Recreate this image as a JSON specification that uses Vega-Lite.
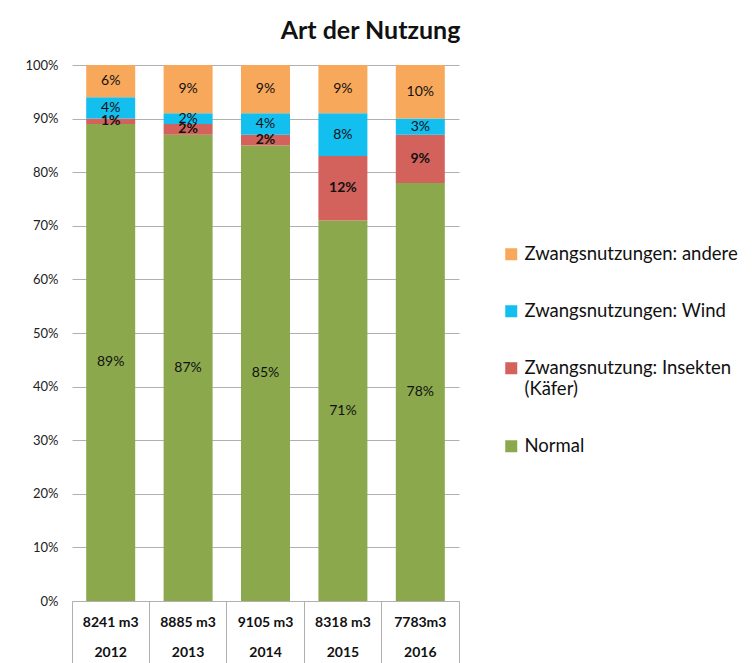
{
  "$schema": "https://vega.github.io/schema/vega-lite/v6.json",
  "autosize": "none",
  "width": 387,
  "height": 536,
  "padding": {"left": 72, "top": 65, "right": 296, "bottom": 62},
  "background": "white",
  "config": {"font": "Lato", "view": {"stroke": null}},
  "title": {"text": "Art der Nutzung", "fontSize": 25, "fontWeight": "bold", "color": "#111111", "anchor": "middle", "dx": 105, "offset": 15, "font": "Lato"},
  "datasets": {
    "d": [
      {"xlab": "8241 m3|2012", "cat": "Normal", "ord": 1, "value": 89},
      {"xlab": "8241 m3|2012", "cat": "Zwangsnutzung: Insekten (Käfer)", "ord": 2, "value": 1},
      {"xlab": "8241 m3|2012", "cat": "Zwangsnutzungen: Wind", "ord": 3, "value": 4},
      {"xlab": "8241 m3|2012", "cat": "Zwangsnutzungen: andere", "ord": 4, "value": 6},
      {"xlab": "8885 m3|2013", "cat": "Normal", "ord": 1, "value": 87},
      {"xlab": "8885 m3|2013", "cat": "Zwangsnutzung: Insekten (Käfer)", "ord": 2, "value": 2},
      {"xlab": "8885 m3|2013", "cat": "Zwangsnutzungen: Wind", "ord": 3, "value": 2},
      {"xlab": "8885 m3|2013", "cat": "Zwangsnutzungen: andere", "ord": 4, "value": 9},
      {"xlab": "9105 m3|2014", "cat": "Normal", "ord": 1, "value": 85},
      {"xlab": "9105 m3|2014", "cat": "Zwangsnutzung: Insekten (Käfer)", "ord": 2, "value": 2},
      {"xlab": "9105 m3|2014", "cat": "Zwangsnutzungen: Wind", "ord": 3, "value": 4},
      {"xlab": "9105 m3|2014", "cat": "Zwangsnutzungen: andere", "ord": 4, "value": 9},
      {"xlab": "8318 m3|2015", "cat": "Normal", "ord": 1, "value": 71},
      {"xlab": "8318 m3|2015", "cat": "Zwangsnutzung: Insekten (Käfer)", "ord": 2, "value": 12},
      {"xlab": "8318 m3|2015", "cat": "Zwangsnutzungen: Wind", "ord": 3, "value": 8},
      {"xlab": "8318 m3|2015", "cat": "Zwangsnutzungen: andere", "ord": 4, "value": 9},
      {"xlab": "7783m3|2016", "cat": "Normal", "ord": 1, "value": 78},
      {"xlab": "7783m3|2016", "cat": "Zwangsnutzung: Insekten (Käfer)", "ord": 2, "value": 9},
      {"xlab": "7783m3|2016", "cat": "Zwangsnutzungen: Wind", "ord": 3, "value": 3},
      {"xlab": "7783m3|2016", "cat": "Zwangsnutzungen: andere", "ord": 4, "value": 10}
    ]
  },
  "data": {"name": "d"},
  "resolve": {"axis": {"x": "independent"}},
  "layer": [
    {
      "mark": {"type": "bar", "width": {"band": 0.633}},
      "encoding": {
        "x": {"field": "xlab", "type": "nominal", "sort": null,
          "scale": {"paddingInner": 0, "paddingOuter": 0},
          "axis": {"title": null, "bandPosition": 0, "labelAngle": 0, "tickSize": 62, "tickColor": "#b0b0b0", "domainColor": "#b0b0b0",
            "labelExpr": "split(datum.label, '|')", "labelLineHeight": 30, "labelFontSize": 14, "labelFontWeight": "bold", "labelColor": "#111111",
            "labelPadding": -41, "labelBaseline": "middle", "labelFont": "Lato"}},
        "y": {"field": "value", "type": "quantitative", "stack": "zero",
          "scale": {"domain": [0, 100], "nice": false},
          "axis": {"title": null, "values": [0,10,20,30,40,50,60,70,80,90,100], "labelExpr": "datum.value + '%'", "grid": true, "gridColor": "#b0b0b0",
            "domain": false, "ticks": false, "labelPadding": 14, "labelFontSize": 13, "labelColor": "#222222", "labelFont": "Lato"}},
        "color": {"field": "cat", "type": "nominal",
          "scale": {"domain": ["Zwangsnutzungen: andere", "Zwangsnutzungen: Wind", "Zwangsnutzung: Insekten (Käfer)", "Normal"],
            "range": ["#f8a85a", "#12bfee", "#d3625c", "#8ba84d"]},
          "legend": {"title": null, "orient": "none", "legendX": 430, "legendY": 180, "symbolType": "square", "symbolSize": 144, "symbolStrokeWidth": 0,
            "labelFontSize": 18.5, "labelColor": "#111111", "labelLimit": 400, "rowPadding": 38, "labelOffset": 4, "labelFont": "Lato",
            "labelExpr": "datum.label == 'Zwangsnutzung: Insekten (Käfer)' ? ['Zwangsnutzung: Insekten', '(Käfer)'] : datum.label"}},
        "order": {"field": "ord", "type": "quantitative"}
      }
    },
    {
      "transform": [
        {"stack": "value", "groupby": ["xlab"], "sort": [{"field": "ord"}], "as": ["y0", "y1"]},
        {"calculate": "(datum.y0 + datum.y1) / 2", "as": "ym"},
        {"calculate": "datum.value + '%'", "as": "pct"},
        {"filter": "datum.ord != 2"}
      ],
      "mark": {"type": "text", "fontSize": 14, "color": "#111111", "font": "Lato"},
      "encoding": {
        "x": {"field": "xlab", "type": "nominal", "sort": null,
          "axis": {"orient": "bottom", "title": null, "bandPosition": 1, "labels": false, "domain": false, "grid": false, "tickSize": 62, "tickColor": "#b0b0b0"}},
        "y": {"field": "ym", "type": "quantitative", "title": null},
        "text": {"field": "pct"}
      }
    },
    {
      "transform": [
        {"stack": "value", "groupby": ["xlab"], "sort": [{"field": "ord"}], "as": ["y0", "y1"]},
        {"calculate": "(datum.y0 + datum.y1) / 2", "as": "ym"},
        {"calculate": "datum.value + '%'", "as": "pct"},
        {"filter": "datum.ord == 2"}
      ],
      "mark": {"type": "text", "fontSize": 14, "fontWeight": "bold", "color": "#111111", "font": "Lato"},
      "encoding": {
        "x": {"field": "xlab", "type": "nominal", "sort": null, "axis": null},
        "y": {"field": "ym", "type": "quantitative", "title": null},
        "text": {"field": "pct"}
      }
    }
  ]
}
